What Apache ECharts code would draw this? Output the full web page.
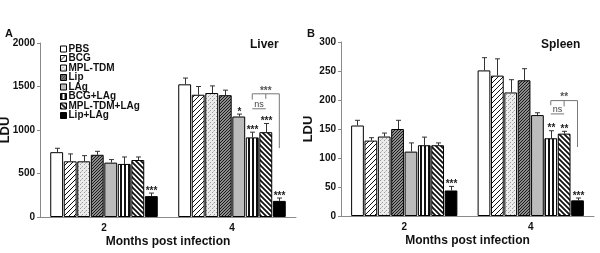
<!DOCTYPE html>
<html><head><meta charset="utf-8">
<script src="https://cdn.jsdelivr.net/npm/echarts@6/dist/echarts.min.js"></script>
<style>html,body{margin:0;padding:0;background:#fff}#c{width:600px;height:253px}</style>
</head><body><div id="c"></div>
<script>
// ---------- data ----------
const months = ['2', '4'];
const groupNames = ['PBS', 'BCG', 'MPL-TDM', 'Lip', 'LAg', 'BCG+LAg', 'MPL-TDM+LAg', 'Lip+LAg'];
// Liver (LDU), per group, month 2 and month 4
const liverMean2 = [745, 640, 640, 715, 625, 610, 655, 240];
const liverMean4 = [1525, 1405, 1425, 1400, 1155, 915, 975, 185];
const liverErr2 = [45, 85, 65, 40, 35, 80, 35, 35];
const liverErr4 = [72, 95, 82, 58, 28, 60, 100, 33];
const liverStars2 = ['', '', '', '', '', '', '', '***'];
const liverStars4 = ['', '', '', '', '*', '***', '***', '***'];
// Spleen (LDU)
const spleenMean2 = [156, 130, 137, 150, 111, 122, 122, 44];
const spleenMean4 = [251, 242, 213, 234, 174, 134, 142, 27];
const spleenErr2 = [9, 5, 6, 15, 15, 14, 4, 7];
const spleenErr4 = [22, 29, 22, 20, 4, 13, 4, 4];
const spleenStars2 = ['', '', '', '', '', '', '', '***'];
const spleenStars4 = ['', '', '', '', '', '**', '**', '***'];
// comparison brackets at month 4: [top, left foot, middle foot, right foot, ns line]
const liverBracket = [1416, 1350, 1358, 792, 1244];
const spleenBracket = [199, 191, 189, 119, 176];
const liverBracketLabel = '***';
const spleenBracketLabel = '**';
const liverTicks = {min: 0, max: 2000, interval: 500};
const spleenTicks = {min: 0, max: 300, interval: 50};

// ---------- styling ----------
const FF = '"Liberation Sans", Arial, Helvetica, sans-serif';
const CAT_GAP = 0.16, BAR_GAP = 0.05, N = groupNames.length;
function barOffset(i) {
  const avail = 1 - CAT_GAP;
  const w = avail / (N + (N - 1) * BAR_GAP);
  return -avail / 2 + i * w * (1 + BAR_GAP) + w / 2;
}
function tile(s, h, draw) {
  const c = document.createElement('canvas');
  c.width = s; c.height = h;
  const g = c.getContext('2d');
  draw(g, s, h);
  return {image: c, repeat: 'repeat'};
}
function diag(g, s, dir) {
  g.beginPath();
  if (dir > 0) { // '/'
    g.moveTo(-1, s + 1); g.lineTo(s + 1, -1);
    g.moveTo(-1, 1); g.lineTo(1, -1);
    g.moveTo(s - 1, s + 1); g.lineTo(s + 1, s - 1);
  } else { // '\'
    g.moveTo(-1, -1); g.lineTo(s + 1, s + 1);
    g.moveTo(s - 1, -1); g.lineTo(s + 1, 1);
    g.moveTo(-1, s - 1); g.lineTo(1, s + 1);
  }
  g.stroke();
}
const fills = [
  '#ffffff',
  tile(5, 5, (g, s) => { g.fillStyle = '#fff'; g.fillRect(0, 0, s, s); g.strokeStyle = '#111'; g.lineWidth = 1; diag(g, s, 1); }),
  tile(4, 4, (g, s) => { g.fillStyle = '#ececec'; g.fillRect(0, 0, s, s); g.fillStyle = '#9a9a9a'; g.fillRect(0, 0, 1, 1); g.fillRect(2, 2, 1, 1); g.fillStyle = '#c4c4c4'; g.fillRect(1, 3, 1, 1); }),
  tile(3, 3, (g, s) => { g.fillStyle = '#8c8c8c'; g.fillRect(0, 0, s, s); g.strokeStyle = '#1a1a1a'; g.lineWidth = 1; diag(g, s, 1); }),
  '#bcbcbc',
  tile(4, 1, (g) => { g.fillStyle = '#fff'; g.fillRect(0, 0, 4, 1); g.fillStyle = '#111'; g.fillRect(0, 0, 2, 1); }),
  tile(5, 5, (g, s) => { g.fillStyle = '#fff'; g.fillRect(0, 0, s, s); g.strokeStyle = '#111'; g.lineWidth = 1.8; diag(g, s, -1); }),
  '#000000'
];

function errData(m2, m4, e2, e4) {
  const out = [];
  [[m2, e2], [m4, e4]].forEach(([m, e], gi) => {
    for (let i = 0; i < N; i++) out.push([gi + barOffset(i), m[i], e[i]]);
  });
  return out;
}
function makeErrRender(stars2, stars4) {
  const stars = stars2.concat(stars4);
  return function (params, api) {
    const x = api.value(0), m = api.value(1), e = api.value(2);
    const p0 = api.coord([x, m]), p1 = api.coord([x, m + e]);
    const px = Math.round(p0[0]) + 0.5;
    const children = [
      {type: 'line', shape: {x1: px, y1: p0[1], x2: px, y2: p1[1]}, style: {stroke: '#333', lineWidth: 1}},
      {type: 'line', shape: {x1: px - 2.5, y1: p1[1], x2: px + 2.5, y2: p1[1]}, style: {stroke: '#333', lineWidth: 1}}
    ];
    const st = stars[params.dataIndex];
    if (st) children.push({type: 'text', x: px, y: p1[1] - 2, style: {text: st, fontSize: 10, fontWeight: 'bold', fill: '#222', align: 'center', verticalAlign: 'middle', fontFamily: FF}});
    return {type: 'group', children};
  };
}
function makeBracketRender(b, label) {
  return function (params, api) {
    const xl = 1 + barOffset(5), xm = 1 + barOffset(6), xr = 1 + barOffset(7);
    const c = (x, y) => api.coord([x, y]);
    const tl = c(xl, b[0]), tr = c(xr, b[0]);
    const lf = c(xl, b[1]), mf = c(xm, b[2]), mt = c(xm, b[0]), rf = c(xr, b[3]);
    const nl = c(xl, b[4]), nr = c(xm, b[4]);
    const st = {stroke: '#777', lineWidth: 1, fill: null};
    return {type: 'group', children: [
      {type: 'polyline', shape: {points: [lf, tl, tr, rf]}, style: st},
      {type: 'line', shape: {x1: mt[0], y1: mt[1], x2: mf[0], y2: mf[1]}, style: st},
      {type: 'line', shape: {x1: nl[0], y1: nl[1], x2: nr[0], y2: nr[1]}, style: st},
      {type: 'text', x: mt[0], y: mt[1] - 3, style: {text: label, fontSize: 10, fontWeight: 'bold', fill: '#555', align: 'center', verticalAlign: 'middle', fontFamily: FF}},
      {type: 'text', x: (nl[0] + nr[0]) / 2, y: nl[1] - 4, style: {text: 'ns', fontSize: 9, fill: '#444', align: 'center', verticalAlign: 'middle', fontFamily: FF}}
    ]};
  };
}

const axisGrey = '#8a8a8a';
function catAxis(gi) {
  return {type: 'category', gridIndex: gi, data: months,
    axisLine: {onZero: false, lineStyle: {color: axisGrey, width: 1}},
    axisTick: {length: 3, lineStyle: {color: axisGrey}},
    axisLabel: {fontSize: 10, fontWeight: 'bold', color: '#111', margin: 6, fontFamily: FF},
    name: 'Months post infection', nameLocation: 'middle', nameGap: 19, nameMoveOverlap: false,
    nameTextStyle: {fontSize: 12, fontWeight: 'bold', color: '#111', fontFamily: FF}};
}
function valXAxis(gi) {
  return {type: 'value', gridIndex: gi, min: -0.5, max: 1.5, show: false, axisLine: {onZero: false}};
}
function yAx(gi, t) {
  return {type: 'value', gridIndex: gi, min: t.min, max: t.max, interval: t.interval,
    splitLine: {show: false},
    axisLine: {show: true, onZero: false, lineStyle: {color: axisGrey, width: 1}},
    axisTick: {show: true, length: 3, lineStyle: {color: axisGrey}},
    axisLabel: {fontSize: 10, fontWeight: 'bold', color: '#111', margin: 5, fontFamily: FF,
      formatter: v => String(v)},
    name: 'LDU', nameLocation: 'middle', nameGap: gi === 0 ? 28 : 26, nameMoveOverlap: false,
    nameTextStyle: {fontSize: 13, fontWeight: 'bold', color: '#111', fontFamily: FF}};
}

const series = [];
[[liverMean2, liverMean4, 0], [spleenMean2, spleenMean4, 1]].forEach(([m2, m4, gi]) => {
  groupNames.forEach((name, i) => {
    series.push({type: 'bar', name, xAxisIndex: gi * 2, yAxisIndex: gi,
      data: [m2[i], m4[i]], barGap: (BAR_GAP * 100) + '%', barCategoryGap: (CAT_GAP * 100) + '%',
      itemStyle: {color: fills[i], borderColor: '#000', borderWidth: 1},
      emphasis: {disabled: true}, animation: false});
  });
});
series.push({type: 'custom', xAxisIndex: 1, yAxisIndex: 0, z: 5, silent: true, animation: false,
  data: errData(liverMean2, liverMean4, liverErr2, liverErr4), renderItem: makeErrRender(liverStars2, liverStars4)});
series.push({type: 'custom', xAxisIndex: 3, yAxisIndex: 1, z: 5, silent: true, animation: false,
  data: errData(spleenMean2, spleenMean4, spleenErr2, spleenErr4), renderItem: makeErrRender(spleenStars2, spleenStars4)});
series.push({type: 'custom', xAxisIndex: 1, yAxisIndex: 0, z: 5, silent: true, animation: false,
  data: [[1, liverBracket[0]]], renderItem: makeBracketRender(liverBracket, liverBracketLabel)});
series.push({type: 'custom', xAxisIndex: 3, yAxisIndex: 1, z: 5, silent: true, animation: false,
  data: [[1, spleenBracket[0]]], renderItem: makeBracketRender(spleenBracket, spleenBracketLabel)});

const chart = echarts.init(document.getElementById('c'), null, {renderer: 'canvas'});
chart.setOption({
  animation: false,
  backgroundColor: '#fff',
  textStyle: {fontFamily: FF},
  title: [
    {text: 'A', left: 0, top: 23, textStyle: {fontSize: 11, fontWeight: 'bold', color: '#111', fontFamily: FF}},
    {text: 'B', left: 302, top: 23, textStyle: {fontSize: 11, fontWeight: 'bold', color: '#111', fontFamily: FF}},
    {text: 'Liver', left: 250, top: 39, padding: 0, textStyle: {fontSize: 12, fontWeight: 'bold', color: '#111', fontFamily: FF}},
    {text: 'Spleen', left: 541, top: 39, padding: 0, textStyle: {fontSize: 12, fontWeight: 'bold', color: '#111', fontFamily: FF}}
  ],
  legend: {orient: 'vertical', left: 60, top: 44, padding: 0, itemGap: -0.5, itemWidth: 6, itemHeight: 6,
    icon: 'rect', data: groupNames, selectedMode: false,
    itemStyle: {borderColor: '#000', borderWidth: 1},
    textStyle: {fontSize: 10, fontWeight: 'bold', color: '#111', lineHeight: 9, padding: [0, 0, 0, -3], fontFamily: FF}},
  grid: [
    {left: 40, top: 43, width: 256, height: 174, containLabel: false, outerBoundsMode: 'none'},
    {left: 341, top: 42, width: 253, height: 174, containLabel: false, outerBoundsMode: 'none'}
  ],
  xAxis: [catAxis(0), valXAxis(0), catAxis(1), valXAxis(1)],
  yAxis: [yAx(0, liverTicks), yAx(1, spleenTicks)],
  series
});
</script></body></html>
